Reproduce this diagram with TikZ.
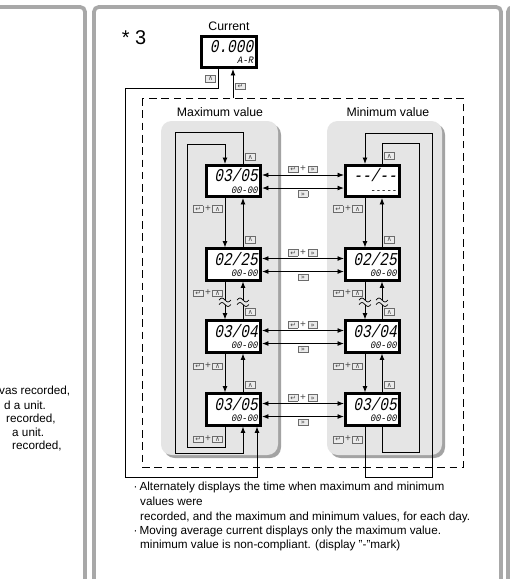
\documentclass[tikz,border=0pt]{standalone}
\usepackage{fontspec}
\setmainfont{Liberation Sans}
\newfontfamily\symfont{DejaVu Sans}
\newfontfamily\lcdfont{Liberation Mono}[FakeSlant=0.2,FakeStretch=0.8]
\newfontfamily\lcdsmfont{Liberation Mono}[FakeSlant=0.2,FakeStretch=0.9]
\usetikzlibrary{arrows.meta}
\usetikzlibrary{positioning}

\definecolor{framegray}{gray}{0.66}
\definecolor{panelgray}{gray}{0.9}
\definecolor{shadegray}{gray}{0.64}
\definecolor{keyrim}{gray}{0.42}
\definecolor{keybg}{gray}{0.92}
\definecolor{keyink}{gray}{0.28}

\newcommand\keycap[1]{{\setlength\fboxsep{0pt}\setlength\fboxrule{0.5pt}%
  \fcolorbox{keyrim}{keybg}{\makebox[7.8pt]{\rule[-0.6pt]{0pt}{5.2pt}%
  \textcolor{keyink}{\symfont\fontsize{5.8}{5.8}\selectfont #1}}}}}
\newcommand\kup{\keycap{∧}}
\newcommand\kset{\keycap{↵}}
\newcommand\kshift{\keycap{»}}
\newcommand\kplus{\textcolor{keyink}{\fontsize{8.5}{8.5}\selectfont\,+\,}}
\newcommand\lcd[2]{{\lcdfont\fontsize{15.4}{15.4}\selectfont #1}\\[-2pt]{\lcdsmfont\fontsize{8.4}{8.4}\selectfont #2}}

\begin{document}
\begin{tikzpicture}[x=0.03cm,y=-0.03cm,
    >={Latex[length=5.5pt,width=4.2pt]},
    lcdbox/.style={draw,line width=2.3pt,fill=white,minimum width=1.63cm,
      minimum height=0.94cm,inner sep=0pt,text width=1.45cm,align=right},
    wire/.style={line width=0.75pt},
    frame/.style={draw=framegray,line width=3.2pt,rounded corners=4pt},
    head/.style={font=\fontsize{10.5}{12}\selectfont},
    note/.style={font=\fontsize{10}{12}\selectfont,anchor=west,inner sep=0pt},
    keys/.style={inner sep=1.5pt}]
    \useasboundingbox (0,0) rectangle (510,579);
    \clip (0,0) rectangle (510,579);

    % panel frames
    \draw[frame] (-10,7) -- (85,7) -- (85,600);
    \draw[frame] (94,600) -- (94,7) -- (501,7) -- (501,600);
    \draw[frame] (508,600) -- (508,7) -- (530,7);

    % end of the text in the left panel
    \node[note] (l1) at (-1,391) {vas recorded,};
    \node[note] (l2) at (4,405) {d a unit.};
    \node[note] (l3) at (6,419) {recorded,};
    \node[note] (l4) at (12,432) {a unit.};
    \node[note] (l5) at (12,446) {recorded,};

    % grey panels and the dashed group
    \fill[shadegray,rounded corners=9pt] (164,124) rectangle (281,458);
    \fill[panelgray,rounded corners=9pt] (161,121) rectangle (278,455);
    \fill[shadegray,rounded corners=9pt] (330,124) rectangle (445,458);
    \fill[panelgray,rounded corners=9pt] (327,121) rectangle (442,455);
    \draw[dash pattern=on 6.5pt off 4pt,line width=0.8pt] (142,98) rectangle (463,467);

    \node[font=\fontsize{17}{18}\selectfont] (star) at (134,38) {* 3};
    \node[head] (maxlbl) at (220,112) {Maximum value};
    \node[head] (minlbl) at (388,112) {Minimum value};

    % displays
    \node[lcdbox] (cur) at (229,52) {\lcd{0.000}{A-R}};
    \node[head,above=0pt of cur] (curlbl) {Current};
    \node[lcdbox] (mx1) at (233.5,181) {\lcd{03/05}{00-00}};
    \node[lcdbox] (mx2) at (233.5,264.5) {\lcd{02/25}{00-00}};
    \node[lcdbox] (mx3) at (233.5,336.5) {\lcd{03/04}{00-00}};
    \node[lcdbox] (mx4) at (233.5,409.5) {\lcd{03/05}{00-00}};
    \node[lcdbox] (mn1) at (372.5,181) {\lcd{--/--}{-----}};
    \node[lcdbox] (mn2) at (372.5,264.5) {\lcd{02/25}{00-00}};
    \node[lcdbox] (mn3) at (372.5,336.5) {\lcd{03/04}{00-00}};
    \node[lcdbox] (mn4) at (372.5,409.5) {\lcd{03/05}{00-00}};

    \coordinate (dL) at (225,0);
    \coordinate (uL) at (243,0);
    \coordinate (dR) at (365,0);
    \coordinate (uR) at (382,0);
    \coordinate (cA) at (218,0);
    \coordinate (cB) at (233,0);
    \coordinate (cC) at (257,0);
    \coordinate (grp) at (233,98);

    % current <-> group
    \draw[wire,->] (cur.south -| cA) |- node[keys,pos=0.25,left] {\kup} (125,88)
        -- (125,477) -| (mx4.south -| cC);
    \draw[wire,->] (grp) -- node[keys,pos=0.4,right] {\kset} (cur.south -| cB);

    % steps inside each column
    \foreach \a/\b/\p/\q in {1/2/0.22/0.16,2/3/0.31/0.2,3/4/0.33/0.2} {
        \draw[wire,->] (mx\a.south -| dL) -- node[keys,pos=\p,left] {\kset\kplus\kup} (mx\b.north -| dL);
        \draw[wire,->] (mx\b.north -| uL) -- node[keys,pos=\q,right] {\kup} (mx\a.south -| uL);
        \draw[wire,->] (mn\a.south -| dR) -- node[keys,pos=\p,left] {\kset\kplus\kup} (mn\b.north -| dR);
        \draw[wire,->] (mn\b.north -| uR) -- node[keys,pos=\q,right] {\kup} (mn\a.south -| uR);
    }
    \draw[wire,->] (mx4.south -| dL) |- node[keys,pos=0.31,left] {\kset\kplus\kup} (187,447)
        -- (187,144) -| (mx1.north -| dL);
    \draw[wire,->] (mx1.north -| uL) |- node[keys,pos=0.11,right] {\kup} (175,132)
        -- (175,453) -| (mx4.south -| uL);
    \draw[wire,->] (mn4.south -| dR) |- node[keys,pos=0.13,left] {\kset\kplus\kup} (432,477)
        -- (432,133) -| (mn1.north -| dR);
    \draw[wire] (mn1.north -| uR) |- node[keys,pos=0.19,right] {\kup} (419,143)
        -- (419,452) -| (mn4.south -| uR);

    % breaks
    \foreach \x in {225,243,365,382} {
        \fill[panelgray] (\x-3,299.5) rectangle (\x+3,304.5);
        \draw[line width=0.6pt] (\x-6,300) sin (\x-3,298) cos (\x,300) sin (\x+3,302) cos (\x+6,300);
        \draw[line width=0.6pt] (\x-6,304.5) sin (\x-3,302.5) cos (\x,304.5) sin (\x+3,306.5) cos (\x+6,304.5);
    }

    % max <-> min
    \foreach \r in {1,...,4} {
        \draw[wire,<->] ([yshift=5.1pt]mx\r.east) -- node[keys,above] {\kset\kplus\kshift} ([yshift=5.1pt]mn\r.west);
        \draw[wire,<->] ([yshift=-6pt]mx\r.east) -- node[keys,below] {\kshift} ([yshift=-6pt]mn\r.west);
    }

    % notes
    \node[note] (t1) at (133.5,487) {·\,Alternately displays the time when maximum and minimum};
    \node[note] (t2) at (140,501) {values were};
    \node[note] (t3) at (140,517) {recorded, and the maximum and minimum values, for each day.};
    \node[note] (t4) at (133.5,531) {·\,Moving average current displays only the maximum value.};
    \node[note] (t5) at (140,545) {minimum value is non-compliant. (display "-"mark)};
\end{tikzpicture}
\end{document}
